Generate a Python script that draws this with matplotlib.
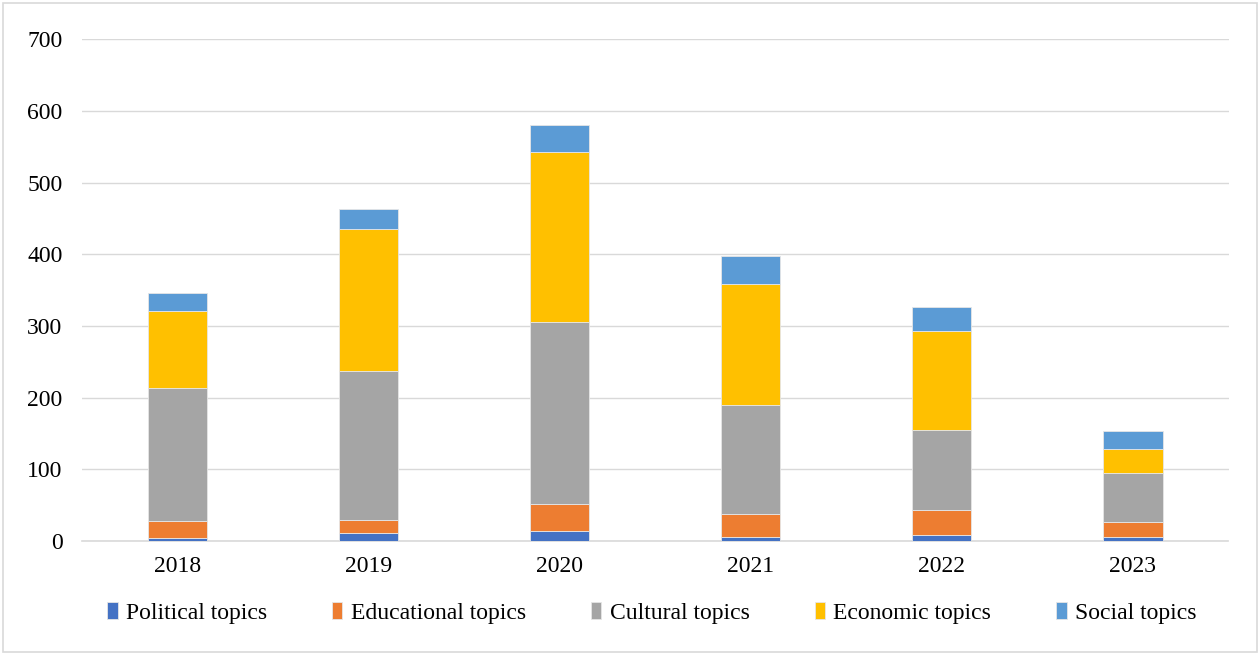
import matplotlib.pyplot as plt
from matplotlib.patches import Rectangle
import numpy as np

plt.rcParams['font.family'] = ['Liberation Serif', 'DejaVu Serif']

years = ["2018", "2019", "2020", "2021", "2022", "2023"]
political = [4, 11, 14, 5, 9, 6]
educational = [24, 19, 37, 32, 34, 20]
cultural = [185, 207, 254, 153, 112, 69]
economic = [108, 198, 237, 168, 138, 33]
social = [25, 28, 38, 39, 33, 25]

series = [
    ("Political topics", political, "#4472C4"),
    ("Educational topics", educational, "#ED7D31"),
    ("Cultural topics", cultural, "#A5A5A5"),
    ("Economic topics", economic, "#FFC000"),
    ("Social topics", social, "#5B9BD5"),
]

fig = plt.figure(figsize=(12.6, 6.53), dpi=100)
ax = fig.add_axes([0.065, 0.1715, 0.91, 0.7685])

x = np.arange(len(years))
bottom = np.zeros(len(years))
for name, vals, col in series:
    ax.bar(x, vals, 0.31, bottom=bottom, color=col, label=name,
           edgecolor="#E6E6E6", linewidth=0.6, zorder=3)
    bottom += np.array(vals)

ax.set_xlim(-0.5, len(years) - 0.5)
ax.set_ylim(0, 700)
ax.set_yticks(range(0, 701, 100))
ax.set_xticks(x)
ax.set_xticklabels(years)
ax.yaxis.grid(True, color="#D9D9D9", linewidth=1, zorder=0)
for s in ["top", "right", "left"]:
    ax.spines[s].set_visible(False)
ax.spines["bottom"].set_color("#D9D9D9")
ax.spines["bottom"].set_linewidth(1.2)
ax.tick_params(axis="both", length=0, labelsize=17)
ax.tick_params(axis="x", pad=11)
ax.tick_params(axis="y", pad=14)

ax.legend(loc="center", bbox_to_anchor=(0.497, -0.143), ncol=5,
          frameon=False, fontsize=17, handlelength=0.45, handleheight=0.75,
          handletextpad=0.35, columnspacing=2.75)

fig.patches.append(Rectangle((0.002, 0.002), 0.996, 0.994, transform=fig.transFigure,
                             fill=False, edgecolor="#D9D9D9", linewidth=1.2))

fig.savefig("out.png", dpi=100)
